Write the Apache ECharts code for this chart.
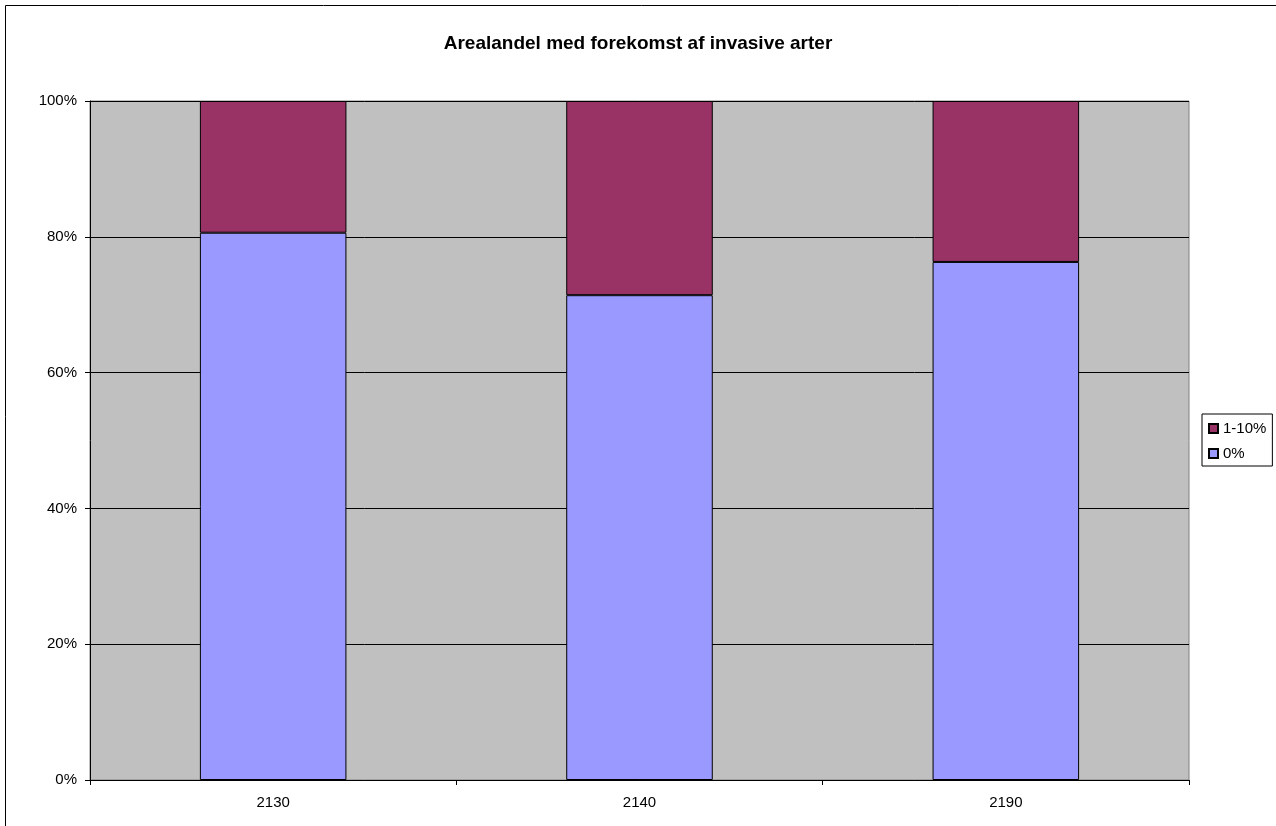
<!DOCTYPE html>
<html>
<head>
<meta charset="utf-8">
<script src="https://cdn.jsdelivr.net/npm/echarts@6/dist/echarts.min.js"></script>
<style>
html,body{margin:0;padding:0;background:#fff;}
#chart{width:1276px;height:826px;}
</style>
</head>
<body>
<div id="chart"></div>
<script>
var titleText = 'Arealandel med forekomst af invasive arter';
var categories = ['2130', '2140', '2190'];
var seriesNames = ['0%', '1-10%'];
var values0 = [80.6, 71.4, 76.3];
var values1to10 = [19.4, 28.6, 23.7];
var yTicks = [0, 20, 40, 60, 80, 100];

var chart = echarts.init(document.getElementById('chart'), null, {renderer: 'canvas'});
var font = 'Liberation Sans, Arial, sans-serif';
chart.setOption({
  animation: false,
  backgroundColor: '#ffffff',
  title: {
    text: titleText,
    left: 'center',
    top: 29,
    textStyle: {fontFamily: font, fontSize: 19, fontWeight: 'bold', color: '#000'}
  },
  graphic: [{
    type: 'rect',
    shape: {x: 5.5, y: 5.5, width: 1300, height: 900},
    style: {fill: 'none', stroke: '#000', lineWidth: 1},
    silent: true
  }],
  legend: {
    orient: 'vertical',
    left: 1202,
    top: 414,
    data: [seriesNames[1], seriesNames[0]],
    itemWidth: 9,
    itemHeight: 9,
    itemGap: 10,
    padding: [7, 6, 5, 6],
    borderColor: '#000',
    borderWidth: 1,
    textStyle: {fontFamily: font, fontSize: 15, color: '#000'},
    icon: 'rect'
  },
  grid: {
    left: 90, right: 87, top: 101, bottom: 46,
    show: true,
    backgroundColor: '#C0C0C0',
    borderColor: '#808080',
    borderWidth: 1
  },
  xAxis: {
    type: 'category',
    data: categories,
    boundaryGap: true,
    axisLine: {show: true, lineStyle: {color: '#000', width: 1}},
    axisTick: {show: true, alignWithLabel: false, length: 5, lineStyle: {color: '#000'}},
    axisLabel: {fontFamily: font, fontSize: 15, color: '#000', margin: 15},
    splitLine: {show: false}
  },
  yAxis: {
    type: 'value',
    min: yTicks[0],
    max: yTicks[yTicks.length - 1],
    interval: 20,
    axisLine: {show: true, lineStyle: {color: '#000', width: 1}},
    axisTick: {show: true, length: 5, lineStyle: {color: '#000'}},
    axisLabel: {fontFamily: font, fontSize: 15, color: '#000', margin: 13, formatter: '{value}%'},
    splitLine: {show: true, lineStyle: {color: '#000', width: 1}}
  },
  series: [
    {
      name: seriesNames[0],
      type: 'bar',
      stack: 'total',
      barWidth: '40%',
      data: values0,
      itemStyle: {color: '#9999FF', borderColor: '#000', borderWidth: 1}
    },
    {
      name: seriesNames[1],
      type: 'bar',
      stack: 'total',
      barWidth: '40%',
      data: values1to10,
      itemStyle: {color: '#993366', borderColor: '#000', borderWidth: 1}
    }
  ]
});
</script>
</body>
</html>
